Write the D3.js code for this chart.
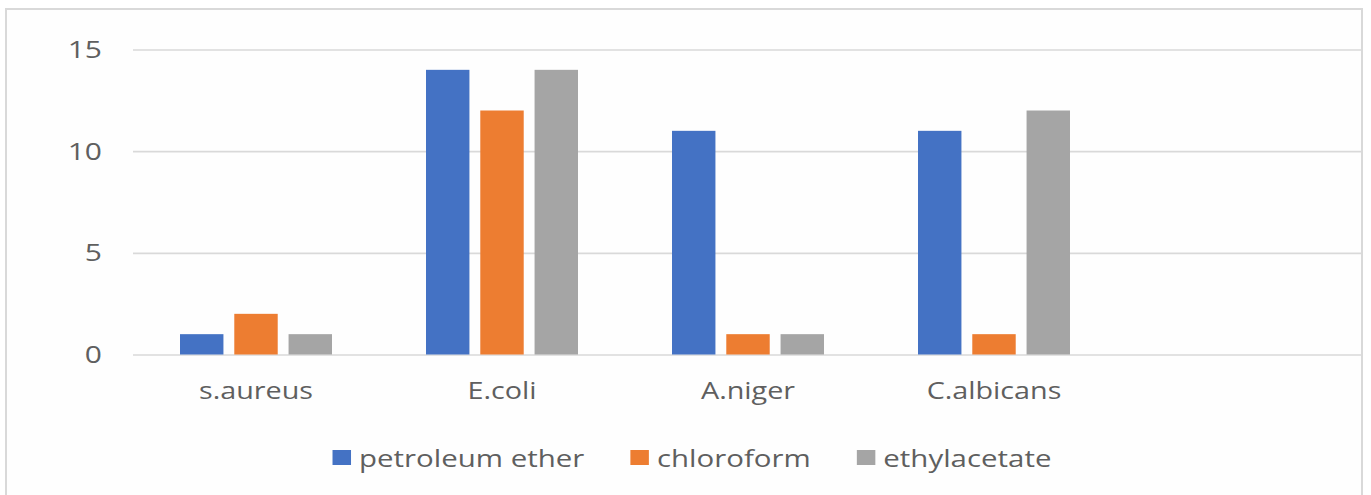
<!DOCTYPE html>
<html>
<head>
<meta charset="utf-8">
<script src="https://cdn.jsdelivr.net/npm/d3@7"></script>
<style>
  html, body { margin: 0; padding: 0; background: #ffffff; }
  svg { display: block; }
  text { font-family: "Open Sans", "Noto Sans", sans-serif; fill: #5f5f5f; }
</style>
</head>
<body>
<svg id="chart" width="1371" height="495"></svg>
<script>
// ---- data ----
const categories = ["s.aureus", "E.coli", "A.niger", "C.albicans", ""];
const seriesNames = ["petroleum ether", "chloroform", "ethylacetate"];
const petroleumEther = [1, 14, 11, 11];
const chloroform = [2, 12, 1, 1];
const ethylacetate = [1, 14, 1, 12];
const yTicks = [0, 5, 10, 15];
const colors = ["#4472C4", "#ED7D31", "#A5A5A5"];

const seriesValues = [petroleumEther, chloroform, ethylacetate];
const rows = categories.slice(0, 4).map((c, i) => ({
  category: c,
  values: seriesNames.map((s, j) => ({ series: s, value: seriesValues[j][i], color: colors[j] }))
}));

// ---- layout ----
const W = 1371, H = 495;
const sx = 1.25;   // horizontal text stretch seen in the reference
const sxLeg = 1.28;
const svg = d3.select("#chart");

svg.append("rect").attr("x", 0).attr("y", 0).attr("width", W).attr("height", H).attr("fill", "#ffffff");
svg.append("rect")
  .attr("x", 6).attr("y", 9).attr("width", 1356).attr("height", 500)
  .attr("fill", "#fefefe").attr("stroke", "#d9d9d9").attr("stroke-width", 2);

const plot = { left: 133, right: 1363, top: 49.5, bottom: 354.5 };

const x = d3.scaleBand().domain(categories).range([plot.left, plot.right]).paddingInner(0).paddingOuter(0);
const xInner = d3.scaleBand().domain(seriesNames).range([47, 199]).paddingInner(0.2).paddingOuter(0);
const y = d3.scaleLinear().domain([0, 15]).range([plot.bottom, plot.top]);

// gridlines
const yAxis = d3.axisLeft(y).tickValues(yTicks).tickSize(-(1361 - plot.left)).tickFormat("");
const gGrid = svg.append("g").attr("transform", `translate(${plot.left},0)`).call(yAxis);
gGrid.select(".domain").remove();
gGrid.selectAll(".tick line").attr("stroke", "#d9d9d9").attr("stroke-width", 1.6);

// tick labels
svg.append("g").selectAll("text").data(yTicks).join("text")
  .attr("transform", d => `translate(102,${y(d)}) scale(${sx},1)`)
  .attr("text-anchor", "end")
  .attr("dy", "0.36em")
  .attr("font-size", 24)
  .text(d => d);

// bars
const groups = svg.append("g").selectAll("g").data(rows).join("g")
  .attr("transform", d => `translate(${x(d.category)},0)`);
groups.selectAll("rect").data(d => d.values).join("rect")
  .attr("x", d => xInner(d.series))
  .attr("width", xInner.bandwidth())
  .attr("y", d => y(d.value))
  .attr("height", d => y(0) - y(d.value))
  .attr("fill", d => d.color);

// category labels
svg.append("g").selectAll("text").data(categories).join("text")
  .attr("transform", d => `translate(${x(d) + x.bandwidth() / 2},399) scale(${sx},1)`)
  .attr("text-anchor", "middle")
  .attr("font-size", 23)
  .text(d => d);

// legend
const legend = svg.append("g");
const items = legend.selectAll("g").data(seriesNames).join("g");
items.append("rect")
  .attr("width", 18.5).attr("height", 15)
  .attr("y", 450)
  .attr("fill", (d, i) => colors[i]);
items.append("text")
  .attr("font-size", 23)
  .text(d => d);
const gapSym = 8, gapItem = 46;
let widths = [];
items.select("text").each(function () { widths.push(this.getComputedTextLength() * sxLeg); });
const total = widths.reduce((a, w) => a + 18.5 + gapSym + w, 0) + gapItem * (widths.length - 1);
let cx = 692 - total / 2;
items.each(function (d, i) {
  const g = d3.select(this);
  g.select("rect").attr("x", cx);
  g.select("text").attr("transform", `translate(${cx + 18.5 + gapSym},467) scale(${sxLeg},1)`);
  cx += 18.5 + gapSym + widths[i] + gapItem;
});
</script>
</body>
</html>
